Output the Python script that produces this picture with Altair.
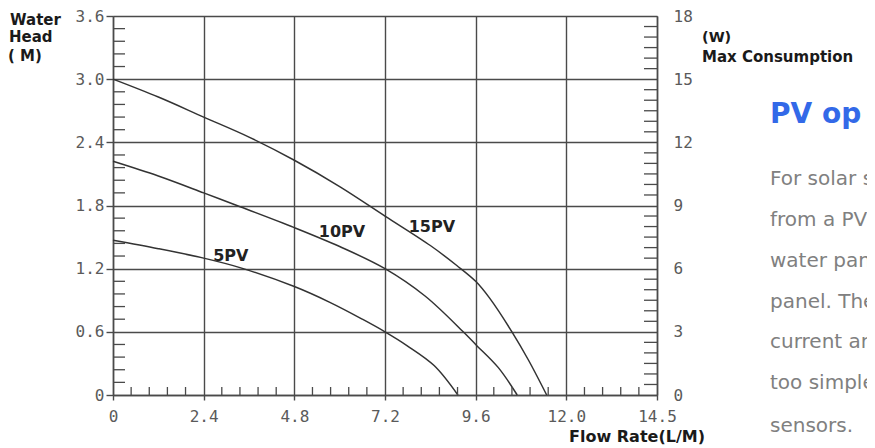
import altair as alt
import pandas as pd
import numpy as np

# ---- data ----
FLOW_5 = [0, 1.2, 2.4, 3.36, 4.8, 5.74, 6.6, 7.2, 7.78, 8.5, 9.13]
HEAD_5 = [1.47, 1.39, 1.30, 1.21, 1.03, 0.88, 0.72, 0.6, 0.47, 0.28, 0]

FLOW_10 = [0, 1.2, 2.4, 3.28, 4.8, 6.0, 7.2, 8.26, 9.27, 9.6, 10.2, 10.7]
HEAD_10 = [2.22, 2.08, 1.92, 1.8, 1.59, 1.41, 1.2, 0.94, 0.6, 0.48, 0.26, 0]

FLOW_15 = [0, 1.2, 2.4, 3.6, 4.8, 6.0, 7.2, 8.4, 9.1, 9.6, 9.97, 10.56, 11.0, 11.48]
HEAD_15 = [3.0, 2.83, 2.64, 2.45, 2.23, 1.98, 1.70, 1.42, 1.23, 1.08, 0.92, 0.6, 0.33, 0]

SERIES = ["5PV", "10PV", "15PV"]
LABEL_FLOW = [3.12, 6.06, 8.44]
LABEL_HEAD = [1.32, 1.55, 1.60]

X_TICKS = [0, 2.4, 4.8, 7.2, 9.6, 12.0, 14.4]
X_TICK_LABELS = ["0", "2.4", "4.8", "7.2", "9.6", "12.0", "14.5"]
Y_TICKS = [0, 0.6, 1.2, 1.8, 2.4, 3.0, 3.6]
Y_TICK_LABELS = ["0", "0.6", "1.2", "1.8", "2.4", "3.0", "3.6"]
W_TICKS = [0, 3, 6, 9, 12, 15, 18]
W_TICK_LABELS = ["0", "3", "6", "9", "12", "15", "18"]

PARAGRAPH = ["For solar s", "from a PV", "water pan", "panel. The",
             "current an", "too simple", "sensors."]

# ---- tables ----
curves = pd.concat([
    pd.DataFrame({"flow": FLOW_5, "head": HEAD_5, "series": "5PV"}),
    pd.DataFrame({"flow": FLOW_10, "head": HEAD_10, "series": "10PV"}),
    pd.DataFrame({"flow": FLOW_15, "head": HEAD_15, "series": "15PV"}),
])
labels = pd.DataFrame({"flow": LABEL_FLOW, "head": LABEL_HEAD, "series": SERIES})

def minor(lo, hi, step, major):
    vals = np.round(np.arange(lo, hi + 1e-9, step), 4)
    return [v for v in vals if abs(v / major - round(v / major)) > 1e-6]

x_minor = pd.DataFrame({"flow": minor(0, 14.4, 0.48, 2.4)})
y_minor = pd.DataFrame({"head": minor(0, 3.6, 0.12, 0.6)})
w_minor = pd.DataFrame({"w": minor(0, 18, 0.5, 3)})

def label_expr(values, texts):
    return "".join(f"abs(datum.value - {v}) < 0.001 ? '{t}' : " for v, t in zip(values, texts)) + "''"

W, H = 544, 379
INK = "#4a4a4a"
LINE = "#333333"
TICK_FONT = "DejaVu Sans Mono"
TICK_COLOR = "#5a5a5a"

X_SCALE = alt.Scale(domain=[0, 14.4], nice=False, zero=False)
Y_SCALE = alt.Scale(domain=[0, 3.6], nice=False, zero=False)
W_SCALE = alt.Scale(domain=[0, 18], nice=False, zero=False)

def x_axis():
    return alt.Axis(values=X_TICKS, labelExpr=label_expr(X_TICKS, X_TICK_LABELS), title=None,
                    grid=True, gridColor=INK, gridWidth=1.4, gridOpacity=1,
                    domainColor=INK, domainWidth=1.5, tickColor=INK, tickWidth=1.4, tickSize=5,
                    labelPadding=8, labelFlush=False, labelOverlap=False,
                    labelFont=TICK_FONT, labelFontSize=16, labelColor=TICK_COLOR)

def y_axis():
    return alt.Axis(values=Y_TICKS, labelExpr=label_expr(Y_TICKS, Y_TICK_LABELS), title=None,
                    grid=True, gridColor=INK, gridWidth=1.4, gridOpacity=1,
                    domainColor=INK, domainWidth=1.5, tickColor=INK, tickWidth=1.4, tickSize=7,
                    labelPadding=2, labelFlush=False, labelOverlap=False,
                    labelFont=TICK_FONT, labelFontSize=16, labelColor=TICK_COLOR)

w_axis = alt.Axis(orient="right", values=W_TICKS, labelExpr=label_expr(W_TICKS, W_TICK_LABELS),
                  title=None, grid=False, ticks=False,
                  domainColor=INK, domainWidth=1.5,
                  labelPadding=16, labelFlush=False, labelOverlap=False,
                  labelFont=TICK_FONT, labelFontSize=16, labelColor=TICK_COLOR)

lines = alt.Chart(curves).mark_line(color=LINE, strokeWidth=1.5, interpolate="catmull-rom").encode(
    x=alt.X("flow:Q", scale=X_SCALE, axis=x_axis()),
    y=alt.Y("head:Q", scale=Y_SCALE, axis=y_axis()),
    detail="series:N",
)

curve_labels = alt.Chart(labels).mark_text(font="DejaVu Sans", fontWeight="bold", fontSize=16,
                                           color="#222222", align="center", baseline="middle").encode(
    x=alt.X("flow:Q", scale=X_SCALE, axis=x_axis()),
    y=alt.Y("head:Q", scale=Y_SCALE, axis=y_axis()),
    text="series:N",
)

x_minor_ticks = alt.Chart(x_minor).mark_rule(color=INK, strokeWidth=1.3).encode(
    x=alt.X("flow:Q", scale=X_SCALE, axis=x_axis()),
    y=alt.value(H), y2=alt.value(H - 8),
)
y_minor_ticks = alt.Chart(y_minor).mark_rule(color=INK, strokeWidth=1.3).encode(
    y=alt.Y("head:Q", scale=Y_SCALE, axis=y_axis()),
    x=alt.value(0), x2=alt.value(12),
)

def txt(s, x, y, size=16, weight="bold", color="#1a1a1a", baseline="middle", font="DejaVu Sans"):
    return alt.Chart(pd.DataFrame({"t": [s]})).mark_text(
        font=font, fontSize=size, fontWeight=weight, color=color, align="left", baseline=baseline
    ).encode(text="t:N", x=alt.value(x), y=alt.value(y))

texts = [
    txt("Water", -103, 3.5, size=15), txt("Head", -104, 21, size=15), txt("( M)", -105, 40, size=15),
    txt("(W)", 589, 22, size=14.5), txt("Max  Consumption", 589, 41, size=15),
    txt("Flow Rate(L/M)", 456, 421, size=16),
    txt("PV op", 657, 99, size=28, color="#3369e8"),
]
para_base = [169, 210, 251, 292, 332, 373, 416]
for s, b in zip(PARAGRAPH, para_base):
    texts.append(txt(s, 657, b, size=20, weight="normal", color="#808080", baseline="alphabetic"))

left = alt.layer(lines, x_minor_ticks, y_minor_ticks, curve_labels, *texts)

right = alt.Chart(w_minor).mark_rule(color=INK, strokeWidth=1.3).encode(
    y=alt.Y("w:Q", scale=W_SCALE, axis=w_axis),
    x=alt.value(W - 13), x2=alt.value(W),
)

chart = alt.layer(left, right).resolve_scale(y="independent").properties(
    width=W, height=H,
    autosize=alt.AutoSizeParams(type="none"),
    padding={"left": 105, "top": 8, "right": 210, "bottom": 52},
).configure_view(strokeWidth=0).configure(background="white")

chart.save("out.html", embed_options={"renderer": "svg", "actions": False})
